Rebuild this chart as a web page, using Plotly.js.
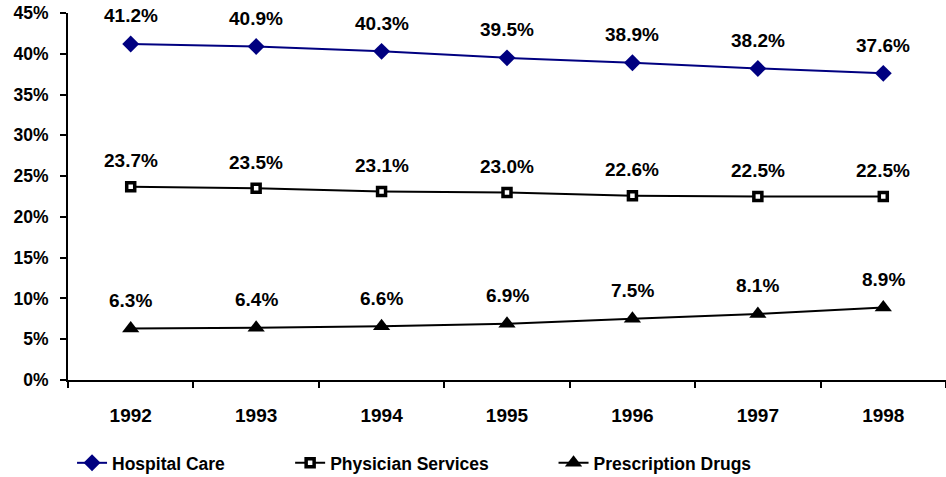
<!DOCTYPE html>
<html>
<head>
<meta charset="utf-8">
<script src="https://cdn.plot.ly/plotly-3.0.1.min.js"></script>
<style>html,body{margin:0;padding:0;background:#fff;}#chart{width:946px;height:477px;}</style>
</head>
<body>
<div id="chart"></div>
<script>
const years = ['1992','1993','1994','1995','1996','1997','1998'];
const hospitalCare = [41.2, 40.9, 40.3, 39.5, 38.9, 38.2, 37.6];
const physicianServices = [23.7, 23.5, 23.1, 23.0, 22.6, 22.5, 22.5];
const prescriptionDrugs = [6.3, 6.4, 6.6, 6.9, 7.5, 8.1, 8.9];
const yTicks = [0, 5, 10, 15, 20, 25, 30, 35, 40, 45];

const FONT = 'Liberation Sans, Arial, Helvetica, sans-serif';

const traces = [
  {x: years, y: hospitalCare, name: 'Hospital Care', type: 'scatter', mode: 'lines+markers',
   line: {color: '#000080', width: 2}, marker: {symbol: 'diamond', size: 13, color: '#000080'}, legend: 'legend'},
  {x: years, y: physicianServices, name: 'Physician Services', type: 'scatter', mode: 'lines+markers',
   line: {color: '#000000', width: 2}, marker: {symbol: 'square', size: 8, color: '#ffffff', line: {color: '#000000', width: 3.5}}, legend: 'legend2'},
  {x: years, y: prescriptionDrugs, name: 'Prescription Drugs', type: 'scatter', mode: 'lines+markers',
   line: {color: '#000000', width: 2}, marker: {symbol: 'triangle-up', size: 15, color: '#000000'}, legend: 'legend3'}
];

const annotations = [];
function addLabels(vals, shift) {
  for (let i = 0; i < vals.length; i++) {
    annotations.push({x: i, y: vals[i], xref: 'x', yref: 'y', text: '<b>' + vals[i].toFixed(1) + '%</b>',
      showarrow: false, yshift: shift, font: {family: FONT, size: 19, color: '#000000'}});
  }
}
addLabels(hospitalCare, 28);
addLabels(physicianServices, 26);
addLabels(prescriptionDrugs, 28);

const legendBase = {orientation: 'h', yanchor: 'middle', y: -0.226, xanchor: 'left',
  font: {family: FONT, size: 17.5, color: '#000', weight: 'bold'}, bgcolor: 'rgba(0,0,0,0)', itemwidth: 30};

const layout = {
  width: 946, height: 477,
  margin: {l: 68, r: 0, t: 13, b: 97, autoexpand: false},
  paper_bgcolor: '#ffffff', plot_bgcolor: '#ffffff',
  showlegend: true,
  xaxis: {type: 'category', range: [-0.5, 6.5], showline: true, linecolor: '#000', linewidth: 2,
    ticks: 'outside', tickson: 'boundaries', ticklen: 6, tickwidth: 2, tickcolor: '#000',
    showgrid: false, zeroline: false, ticklabelstandoff: 17, automargin: false,
    tickfont: {family: FONT, size: 19, color: '#000', weight: 'bold'}},
  yaxis: {range: [0, 45], tickvals: yTicks, ticktext: yTicks.map(v => v + '%'), showline: true,
    linecolor: '#000', linewidth: 2, ticks: 'outside', ticklen: 6, tickwidth: 2, tickcolor: '#000',
    showgrid: false, zeroline: false, ticklabelstandoff: 8, automargin: false,
    tickfont: {family: FONT, size: 17.5, color: '#000', weight: 'bold'}},
  legend: Object.assign({}, legendBase, {x: 0.0046}),
  legend2: Object.assign({}, legendBase, {x: 0.253}),
  legend3: Object.assign({}, legendBase, {x: 0.553}),
  annotations: annotations
};

Plotly.newPlot('chart', traces, layout, {displayModeBar: false}).catch(function(e){ document.body.insertAdjacentText('beforeend', String(e)); });
</script>
</body>
</html>
